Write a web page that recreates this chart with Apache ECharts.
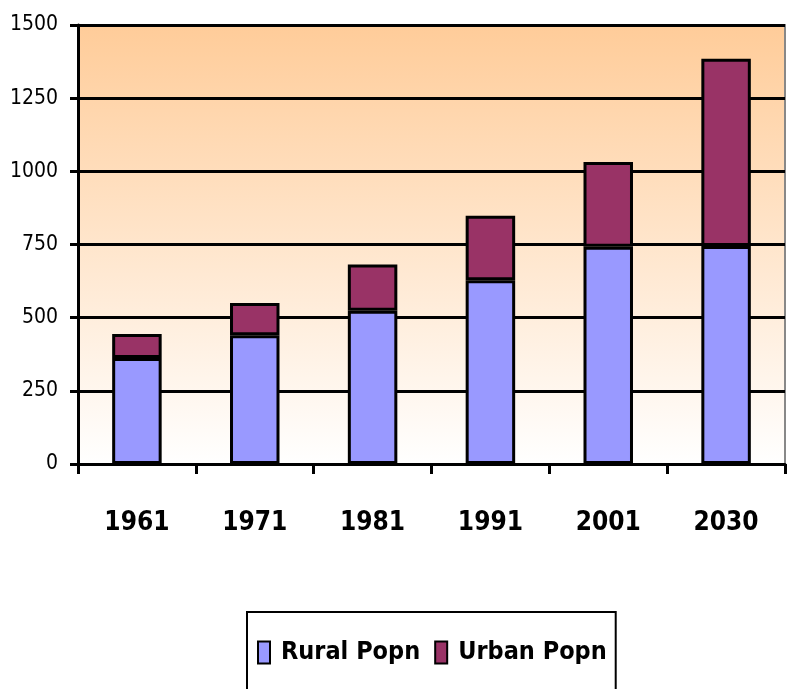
<!DOCTYPE html>
<html><head><meta charset="utf-8">
<script src="https://cdn.jsdelivr.net/npm/echarts@6/dist/echarts.min.js"></script>
<style>html,body{margin:0;padding:0;background:#fff}#c{width:790px;height:689px}</style>
</head><body><div id="c"></div>
<script>
var categories = ['1961','1971','1981','1991','2001','2030'];
var rural = [362, 440, 524, 628, 742, 745];
var urban = [82, 110, 158, 220, 290, 640];
var yTicks = [0, 250, 500, 750, 1000, 1250, 1500];

var FONT = '"DejaVu Sans Condensed", "Liberation Sans Narrow", "Liberation Sans", sans-serif';
var chart = echarts.init(document.getElementById('c'));
chart.setOption({
  animation: false,
  grid: {
    left: 78, right: 5, top: 25, bottom: 225,
    show: true,
    borderColor: '#888', borderWidth: 2,
    backgroundColor: new echarts.graphic.LinearGradient(0, 0, 0, 1, [
      {offset: 0, color: '#FFCC99'},
      {offset: 1, color: '#FFFFFF'}
    ])
  },
  legend: {
    left: 247, top: 612,
    padding: [28, 9, 40, 10],
    borderColor: '#000', borderWidth: 2,
    itemWidth: 12, itemHeight: 22, itemGap: 14,
    icon: 'rect',
    itemStyle: {borderColor: '#000', borderWidth: 2},
    textStyle: {fontFamily: FONT, fontSize: 25, fontWeight: 'bold', color: '#000', padding: [0, 0, 0, 6]},
    data: ['Rural Popn', 'Urban Popn']
  },
  xAxis: {
    type: 'category',
    data: categories,
    axisLine: {lineStyle: {color: '#000', width: 3}},
    axisTick: {show: true, length: 10, lineStyle: {color: '#000', width: 3}},
    axisLabel: {margin: 46, fontFamily: FONT, fontSize: 26, fontWeight: 'bold', color: '#000'}
  },
  yAxis: {
    type: 'value',
    min: 0, max: 1500, interval: 250,
    axisLine: {show: true, lineStyle: {color: '#000', width: 3}},
    axisTick: {show: true, length: 8, lineStyle: {color: '#000', width: 3}},
    splitLine: {show: true, lineStyle: {color: '#000', width: 3}},
    axisLabel: {
      margin: 20, fontFamily: FONT, fontSize: 21, color: '#000',
      formatter: function (v) { return yTicks.indexOf(v) >= 0 ? String(v) : ''; }
    }
  },
  series: [
    {
      name: 'Rural Popn', type: 'bar', stack: 'p', data: rural,
      barWidth: '42%',
      itemStyle: {color: '#9999FF', borderColor: '#000', borderWidth: 3}
    },
    {
      name: 'Urban Popn', type: 'bar', stack: 'p', data: urban,
      barWidth: '42%',
      itemStyle: {color: '#993366', borderColor: '#000', borderWidth: 3}
    }
  ]
});
</script></body></html>
